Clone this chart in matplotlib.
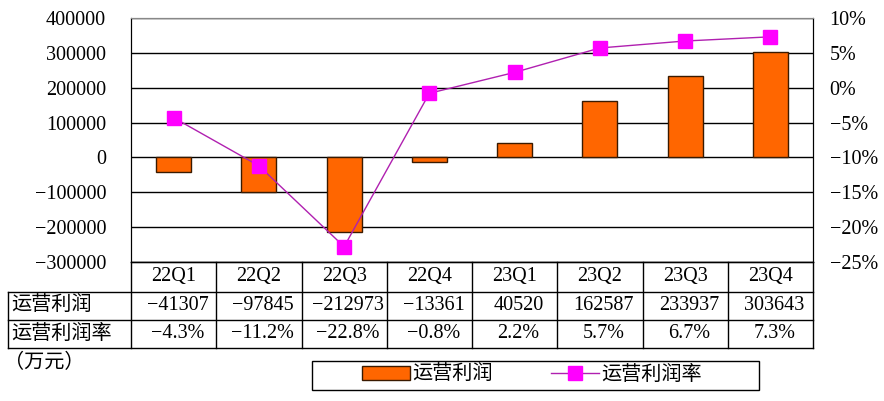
import numpy as np
import matplotlib.pyplot as plt
import matplotlib.transforms as mtransforms
from matplotlib.lines import Line2D
from matplotlib.patches import Patch, Rectangle

plt.rcParams['font.family'] = ['Liberation Serif', 'Noto Sans CJK SC']
plt.rcParams['axes.unicode_minus'] = True

quarters = ["22Q1", "22Q2", "22Q3", "22Q4", "23Q1", "23Q2", "23Q3", "23Q4"]
profit = [-41307, -97845, -212973, -13361, 40520, 162587, 233937, 303643]
margin = [-4.3, -11.2, -22.8, -0.8, 2.2, 5.7, 6.7, 7.3]
row_labels = ["运营利润", "运营利润率"]
unit_label = "（万元）"

W, H = 884, 401
FS = 14.5
bar_color = "#FF6600"
line_color = "#B020B0"
marker_color = "#FF00FF"

fig = plt.figure(figsize=(W / 100, H / 100), dpi=100)
# pixel transform, origin at top-left
px = mtransforms.Affine2D().scale(1 / W, -1 / H).translate(0, 1) + fig.transFigure

x0, x1, y0, y1 = 131, 813, 18, 262
ax = fig.add_axes([x0 / W, 1 - y1 / H, (x1 - x0) / W, (y1 - y0) / H])
x = np.arange(len(quarters))
ax.bar(x, profit, width=0.41, color=bar_color, edgecolor="#3A1A00", linewidth=1, zorder=3)
ax.set_xlim(-0.5, len(quarters) - 0.5)
ax.set_ylim(-300000, 400000)
ax.set_yticks(np.arange(-300000, 400001, 100000))
ax.yaxis.set_major_formatter(lambda v, p: f"{v:.0f}".replace("-", "\u2212"))
ax.set_xticks([])
ax.grid(axis="y", color="black", linewidth=1, zorder=0)
ax.tick_params(axis="y", length=0, pad=18, labelsize=FS)
for s in ["left", "right", "bottom"]:
    ax.spines[s].set_color("black")
ax.spines["top"].set_color("#888888")

ax2 = ax.twinx()
ax2.plot(x, margin, color=line_color, linewidth=1, marker="s", markersize=10,
         markerfacecolor=marker_color, markeredgecolor=marker_color, zorder=4)
ax2.set_ylim(-25, 10)
ax2.set_yticks(np.arange(-25, 11, 5))
ax2.yaxis.set_major_formatter(lambda v, p: f"{v:.0f}%".replace("-", "\u2212"))
ax2.tick_params(axis="y", length=0, pad=12, labelsize=FS)
for s in ["left", "right", "bottom"]:
    ax2.spines[s].set_color("black")
ax2.spines["top"].set_color("#888888")

# data table below the plot
cw = (x1 - x0) / len(quarters)
rows_y = [262, 292, 320, 348]
lk = dict(color="black", linewidth=1, transform=px)
fig.add_artist(Line2D([x0, x1], [rows_y[0]] * 2, **lk))
for yy in rows_y[1:]:
    fig.add_artist(Line2D([8, x1], [yy] * 2, **lk))
fig.add_artist(Line2D([8, 8], [rows_y[1], rows_y[3]], **lk))
for i in range(len(quarters) + 1):
    fig.add_artist(Line2D([x0 + i * cw] * 2, [rows_y[0], rows_y[3]], **lk))

for i, q in enumerate(quarters):
    cx = x0 + (i + 0.5) * cw
    fig.text(cx, (rows_y[0] + rows_y[1]) / 2, q, transform=px, ha="center", va="center", fontsize=FS)
    fig.text(cx + 4, (rows_y[1] + rows_y[2]) / 2, f"{profit[i]}".replace("-", "\u2212"),
             transform=px, ha="center", va="center", fontsize=FS)
    fig.text(cx + 4, (rows_y[2] + rows_y[3]) / 2, f"{margin[i]:.1f}%".replace("-", "\u2212"),
             transform=px, ha="center", va="center", fontsize=FS)
for j, lab in enumerate(row_labels):
    fig.text(11, (rows_y[j + 1] + rows_y[j + 2]) / 2, lab, transform=px, ha="left", va="center", fontsize=FS)

fig.text(4, 363, unit_label, transform=px, ha="left", va="center", fontsize=FS)

# legend with its own box
lx0, lx1, ly0, ly1 = 312, 759, 361, 390
fig.add_artist(Rectangle((lx0, ly0), lx1 - lx0, ly1 - ly0, transform=px,
                         facecolor="white", edgecolor="black", linewidth=1))
handles = [Patch(facecolor=bar_color, edgecolor="#3A1A00", linewidth=1),
           Line2D([], [], color=line_color, linewidth=1, marker="s", markersize=10,
                  markerfacecolor=marker_color, markeredgecolor=marker_color)]
leg = fig.legend(handles, row_labels, ncol=2, loc="center",
                 bbox_to_anchor=(532 / W, 1 - (ly0 + ly1) / 2 / H),
                 fontsize=FS, frameon=False, borderpad=0, handlelength=2.4,
                 handletextpad=0.1, columnspacing=2.9)

fig.savefig("out.png", dpi=100, facecolor="white")
